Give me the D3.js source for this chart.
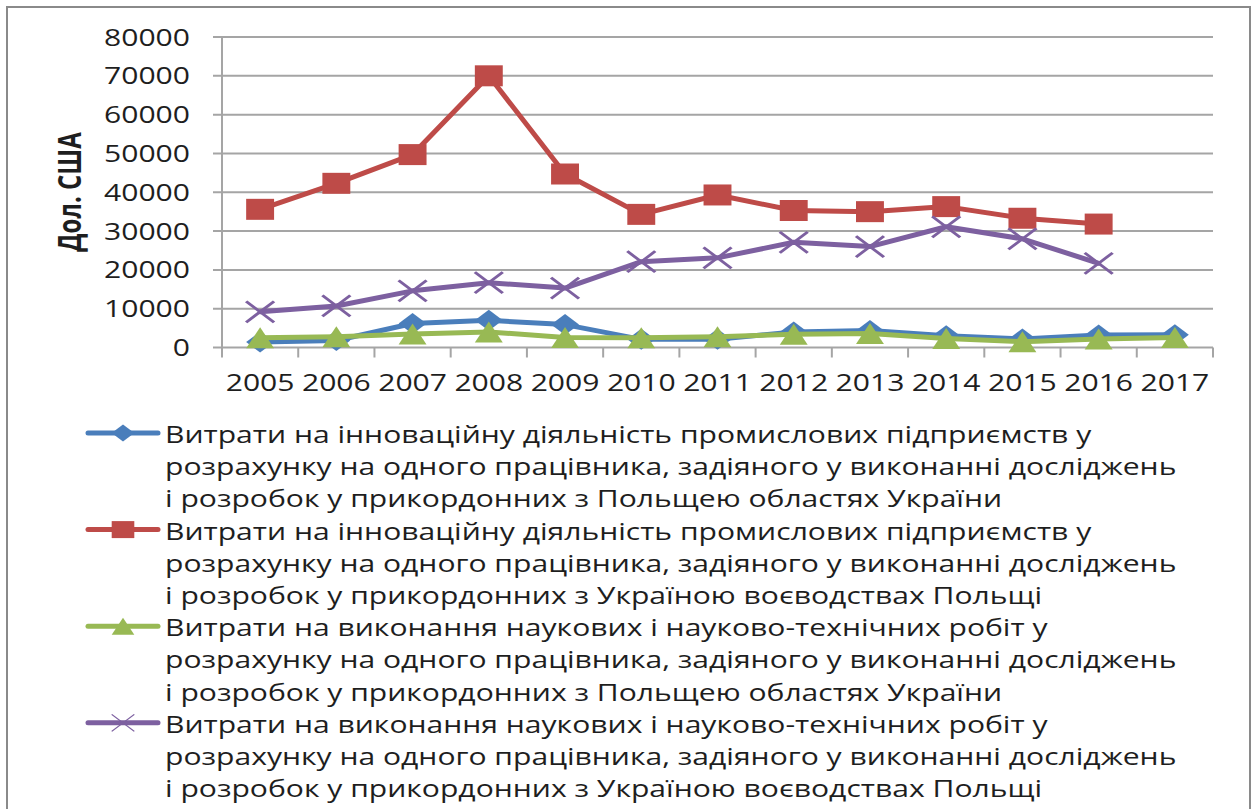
<!DOCTYPE html>
<html>
<head>
<meta charset="utf-8">
<script src="https://cdn.jsdelivr.net/npm/d3@7"></script>
<style>
  body { margin: 0; background: #fff; }
  text { font-family: "Open Sans", "DejaVu Sans", sans-serif; fill: #1e1e1e; }
</style>
</head>
<body>
<svg id="chart" width="1254" height="809"></svg>
<script>
// Section 1: data
// ===========================
var years = ["2005", "2006", "2007", "2008", "2009", "2010", "2011", "2012", "2013", "2014", "2015", "2016", "2017"];

var blueValues   = [1400, 1800, 6200, 7000, 5900, 2100, 2100, 4000, 4400, 3000, 2200, 3200, 3300];
var redValues    = [35600, 42300, 49700, 70000, 44700, 34300, 39300, 35300, 35000, 36300, 33300, 31800, null];
var greenValues  = [2500, 2800, 3500, 4000, 2600, 2500, 2800, 3400, 3600, 2300, 1500, 2200, 2600];
var purpleValues = [9200, 10700, 14600, 16700, 15300, 22100, 23100, 27100, 26000, 31100, 28000, 21700, null];

var yTicks = [0, 10000, 20000, 30000, 40000, 50000, 60000, 70000, 80000];
var yTitle = "Дол. США";

var legendLines = [
  ["Витрати  на інноваційну діяльність промислових підприємств у",
   "розрахунку на одного працівника, задіяного у виконанні досліджень",
   "і розробок у прикордонних з Польщею областях України"],
  ["Витрати  на інноваційну діяльність промислових підприємств у",
   "розрахунку на одного працівника, задіяного у виконанні досліджень",
   "і розробок у прикордонних з Україною воєводствах Польщі"],
  ["Витрати  на виконання наукових і науково-технічних робіт у",
   "розрахунку на одного працівника, задіяного у виконанні досліджень",
   "і розробок у прикордонних з Польщею областях України"],
  ["Витрати  на виконання наукових і науково-технічних робіт у",
   "розрахунку на одного працівника, задіяного у виконанні досліджень",
   "і розробок у прикордонних з Україною воєводствах Польщі"]
];

var seriesColors = ["#4a7ebb", "#be4b48", "#98b954", "#7d60a0"];
var seriesMarkers = ["diamond", "square", "triangle", "cross"];
var seriesValues = [blueValues, redValues, greenValues, purpleValues];

// Section 2: setup
// ===========================
var svg = d3.select("#chart");

var plot = { left: 222, right: 1213, top: 37, bottom: 347.5 };
var stretch = 1.33;     // the picture is widened horizontally
var markerSize = 21;

// outer frame
svg.append("rect")
  .attr("x", 7).attr("y", 7)
  .attr("width", 1243).attr("height", 900)
  .attr("fill", "#fff")
  .attr("stroke", "#8a8a8a")
  .attr("stroke-width", 2);

var x = d3.scaleBand().domain(years).range([plot.left, plot.right]);
var y = d3.scaleLinear().domain([0, 80000]).range([plot.bottom, plot.top]);
function cx(d) { return x(d) + x.bandwidth() / 2; }

// gridlines
svg.append("g")
  .selectAll("line")
  .data(yTicks)
  .enter().append("line")
  .attr("x1", plot.left - 9).attr("x2", plot.right)
  .attr("y1", function(d) { return y(d); })
  .attr("y2", function(d) { return y(d); })
  .attr("stroke", "#a5a5a5")
  .attr("stroke-width", 2);

// y axis line
svg.append("line")
  .attr("x1", plot.left).attr("x2", plot.left)
  .attr("y1", plot.top).attr("y2", plot.bottom)
  .attr("stroke", "#a5a5a5").attr("stroke-width", 2);

// x axis ticks between categories
var xTickPos = years.map(function(d) { return x(d); }).concat([plot.right]);
svg.append("g")
  .selectAll("line")
  .data(xTickPos)
  .enter().append("line")
  .attr("x1", function(d) { return d; })
  .attr("x2", function(d) { return d; })
  .attr("y1", plot.bottom).attr("y2", plot.bottom + 10)
  .attr("stroke", "#a5a5a5").attr("stroke-width", 2);

// work out how wide the widened text needs to be
var probe = svg.append("text").attr("font-size", 24).text("80000");
var tickScale = 86 / probe.node().getComputedTextLength();
probe.remove();

// y tick labels
svg.append("g")
  .selectAll("text")
  .data(yTicks)
  .enter().append("text")
  .attr("transform", function(d) { return "translate(190," + (y(d) + 8.5) + ") scale(" + tickScale + ",1)"; })
  .attr("text-anchor", "end")
  .attr("font-size", 24)
  .text(function(d) { return d; });

// x tick labels
svg.append("g")
  .selectAll("text")
  .data(years)
  .enter().append("text")
  .attr("transform", function(d) { return "translate(" + cx(d) + ",391) scale(" + tickScale + ",1)"; })
  .attr("text-anchor", "middle")
  .attr("font-size", 24)
  .text(function(d) { return d; });

// y title (rotated, then widened like the rest)
svg.append("text")
  .attr("transform", "translate(81,192) scale(" + stretch + ",1) rotate(-90)")
  .attr("text-anchor", "middle")
  .attr("font-size", 24)
  .attr("font-weight", "bold")
  .attr("fill", "#111")
  .text(yTitle);

// marker shapes, drawn in a square box then widened
function markerPath(type, s) {
  var h = s / 2;
  if (type === "diamond") return "M0," + (-h) + "L" + h + ",0L0," + h + "L" + (-h) + ",0Z";
  if (type === "square") return "M" + (-h) + "," + (-h) + "H" + h + "V" + h + "H" + (-h) + "Z";
  if (type === "triangle") return "M0," + (-h) + "L" + h + "," + h + "L" + (-h) + "," + h + "Z";
  return "M" + (-h) + "," + (-h) + "L" + h + "," + h + "M" + h + "," + (-h) + "L" + (-h) + "," + h;
}

function drawMarker(g, type, color, px, py, s, thin) {
  var p = g.append("path")
    .attr("d", markerPath(type, s))
    .attr("transform", "translate(" + px + "," + py + ") scale(" + stretch + ",1)");
  if (type === "cross") {
    p.attr("fill", "none").attr("stroke", color).attr("stroke-width", thin ? 1 : 2.5);
  } else {
    p.attr("fill", color);
  }
}

// Section 3: series
// ===========================
var line = d3.line()
  .defined(function(d) { return d.v !== null; })
  .x(function(d) { return cx(d.year); })
  .y(function(d) { return y(d.v); });

seriesValues.forEach(function(vals, i) {
  var pts = years.map(function(yr, j) { return { year: yr, v: vals[j] }; });
  var g = svg.append("g");
  g.append("path")
    .datum(pts)
    .attr("d", line)
    .attr("fill", "none")
    .attr("stroke", seriesColors[i])
    .attr("stroke-width", 5)
    .attr("stroke-linejoin", "round")
    .attr("stroke-linecap", "round");
  pts.filter(function(d) { return d.v !== null; }).forEach(function(d) {
    drawMarker(g, seriesMarkers[i], seriesColors[i], cx(d.year), y(d.v), markerSize, false);
  });
});

// Section 4: legend
// ===========================
var legendTop = 443;
var lineStep = 32.2;
var legend = svg.append("g");

var allLines = [];
legendLines.forEach(function(lines, i) {
  lines.forEach(function(t, j) {
    allLines.push({ text: t, row: i * 3 + j });
  });
});

var legendTexts = legend.selectAll("text")
  .data(allLines)
  .enter().append("text")
  .attr("font-size", 24)
  .text(function(d) { return d.text; });

var widest = 0;
legendTexts.each(function() { widest = Math.max(widest, this.getComputedTextLength()); });
var legendScale = 1012 / widest;

legendTexts.attr("transform", function(d) {
  return "translate(165," + (legendTop + d.row * lineStep) + ") scale(" + legendScale + ",1)";
});

legendLines.forEach(function(lines, i) {
  var ly = legendTop - 10 + i * 3 * lineStep;
  legend.append("line")
    .attr("x1", 88).attr("x2", 158)
    .attr("y1", ly).attr("y2", ly)
    .attr("stroke", seriesColors[i])
    .attr("stroke-width", 5)
    .attr("stroke-linecap", "round");
  drawMarker(legend, seriesMarkers[i], seriesColors[i], 123, ly, 17, true);
});
</script>
</body>
</html>
